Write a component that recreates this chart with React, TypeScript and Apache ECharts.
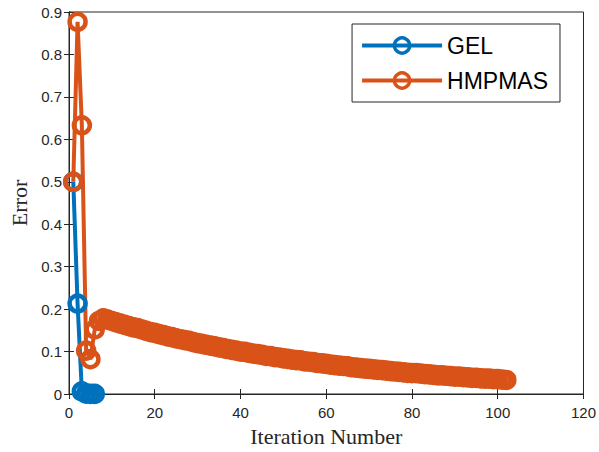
import React, { useEffect, useRef } from "react";
import * as echarts from "echarts";

const gelIter = [1, 2, 3, 4, 5, 6];
const gelError = [0.5, 0.213, 0.006, 0.001, 0.0002, 0.00005];

const hmpIterEarly = [1, 2, 3, 4, 5, 6, 7];
const hmpErrorEarly = [0.5, 0.877, 0.633, 0.102, 0.082, 0.152, 0.172];
// iterations 8..102
const hmpErrorTail = [
  0.178, 0.175, 0.172, 0.169, 0.166, 0.163, 0.16, 0.157, 0.155, 0.152,
  0.149, 0.146, 0.144, 0.141, 0.139, 0.136, 0.134, 0.131, 0.129, 0.127,
  0.125, 0.122, 0.12, 0.118, 0.116, 0.114, 0.112, 0.11, 0.108, 0.106,
  0.104, 0.102, 0.1, 0.099, 0.097, 0.095, 0.094, 0.092, 0.09, 0.089,
  0.087, 0.086, 0.084, 0.083, 0.081, 0.08, 0.079, 0.077, 0.076, 0.075,
  0.073, 0.072, 0.071, 0.069, 0.068, 0.067, 0.066, 0.065, 0.063, 0.062,
  0.061, 0.06, 0.059, 0.058, 0.057, 0.056, 0.055, 0.054, 0.053, 0.052,
  0.051, 0.05, 0.049, 0.049, 0.048, 0.047, 0.046, 0.045, 0.044, 0.044,
  0.043, 0.042, 0.041, 0.041, 0.04, 0.039, 0.038, 0.038, 0.037, 0.036,
  0.036, 0.035, 0.035, 0.034, 0.033,
];
const hmpTailStart = 8;

const xTicks = { min: 0, max: 120, interval: 20 };
const yTicks = { min: 0, max: 0.9, interval: 0.1 };

const BLUE = "#0072BD";
const ORANGE = "#D95319";
const AX = "#262626";

export default function App() {
  const ref = useRef<HTMLDivElement>(null);
  useEffect(() => {
    if (!ref.current) return;
    const chart = echarts.init(ref.current, undefined, { renderer: "svg" });
    const gelData = gelIter.map((x, i) => [x, gelError[i]]);
    const hmpData = [
      ...hmpIterEarly.map((x, i) => [x, hmpErrorEarly[i]]),
      ...hmpErrorTail.map((v, i) => [hmpTailStart + i, v]),
    ];
    const sans = "Liberation Sans, Arial, sans-serif";
    const serif = "Liberation Serif, Times New Roman, serif";
    const mkSeries = (name: string, color: string, data: number[][]) => ({
      name,
      type: "line",
      data,
      clip: false,
      symbol: "circle",
      symbolSize: 16,
      showSymbol: true,
      itemStyle: { color: "rgba(0,0,0,0)", borderColor: color, borderWidth: 4.5 },
      lineStyle: { color, width: 4 },
      emphasis: { disabled: true },
    });
    chart.setOption({
      animation: false,
      backgroundColor: "#fff",
      grid: {
        left: 67,
        right: 15,
        top: 12,
        bottom: 55,
        show: true,
        borderColor: AX,
        borderWidth: 1,
        backgroundColor: "transparent",
      },
      legend: {
        right: 39,
        top: 24,
        orient: "vertical",
        itemWidth: 80,
        itemHeight: 19,
        itemGap: 12,
        padding: [10, 12, 10, 8],
        borderColor: AX,
        borderWidth: 1,
        backgroundColor: "#fff",
        lineStyle: { width: 4 },
        itemStyle: { borderWidth: 3.5 },
        textStyle: { fontFamily: sans, fontSize: 23, color: "#000" },
        data: ["GEL", "HMPMAS"],
      },
      xAxis: [
        {
          type: "value",
          ...xTicks,
          name: "Iteration Number",
          nameLocation: "middle",
          nameGap: 31,
          nameTextStyle: { fontFamily: serif, fontSize: 22, color: AX },
          axisLine: { show: true, lineStyle: { color: AX } },
          axisTick: { show: true, inside: true, length: 5, lineStyle: { color: AX } },
          axisLabel: { fontFamily: sans, fontSize: 15, color: AX, margin: 11 },
          splitLine: { show: false },
        },
        {
          type: "value",
          position: "top",
          ...xTicks,
          axisLine: { show: true, lineStyle: { color: AX } },
          axisTick: { show: true, inside: true, length: 5, lineStyle: { color: AX } },
          axisLabel: { show: false },
          splitLine: { show: false },
        },
      ],
      yAxis: [
        {
          type: "value",
          ...yTicks,
          name: "Error",
          nameLocation: "middle",
          nameGap: 39,
          nameTextStyle: { fontFamily: serif, fontSize: 22, color: AX },
          axisLine: { show: true, lineStyle: { color: AX } },
          axisTick: { show: true, inside: true, length: 5, lineStyle: { color: AX } },
          axisLabel: {
            fontFamily: sans,
            fontSize: 15,
            color: AX,
            margin: 7,
            formatter: (v: number) => String(Math.round(v * 10) / 10),
          },
          splitLine: { show: false },
        },
        {
          type: "value",
          position: "right",
          ...yTicks,
          axisLine: { show: true, lineStyle: { color: AX } },
          axisTick: { show: true, inside: true, length: 5, lineStyle: { color: AX } },
          axisLabel: { show: false },
          splitLine: { show: false },
        },
      ],
      series: [mkSeries("GEL", BLUE, gelData), mkSeries("HMPMAS", ORANGE, hmpData)],
    });
    return () => chart.dispose();
  }, []);
  return <div ref={ref} style={{ width: 599, height: 452, position: "absolute", left: 0, top: 0 }} />;
}
